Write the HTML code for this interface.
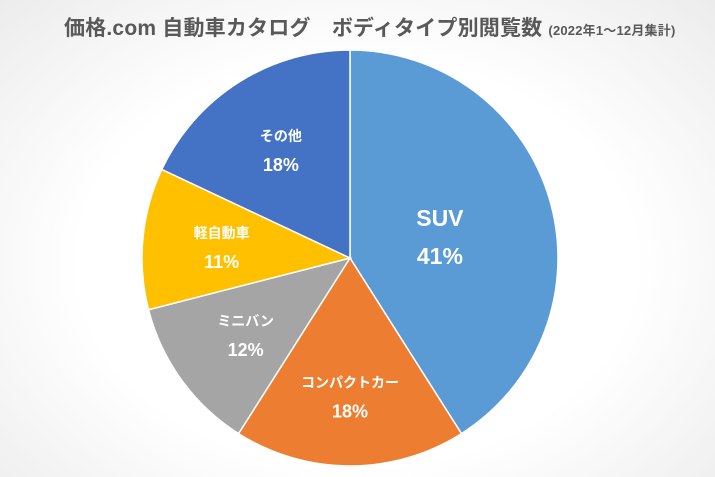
<!DOCTYPE html>
<html><head><meta charset="utf-8"><style>
html,body{margin:0;padding:0}
body{width:715px;height:477px;overflow:hidden;background:radial-gradient(ellipse at 50% 55%,#ffffff 55%,#ececec 100%);font-family:"Liberation Sans","Noto Sans CJK JP",sans-serif}
#title{position:absolute;left:64px;top:12px;font-size:21px;font-weight:bold;color:#595959;white-space:nowrap;letter-spacing:0.2px}
#title small{font-size:13px;font-weight:bold}
svg{position:absolute;left:0;top:0}
</style></head><body>
<div id="title">価格.com 自動車カタログ　ボディタイプ別閲覧数 <small>(2022年1～12月集計)</small></div>
<svg id="chart" width="715" height="477"></svg>
<script>
const categories=["SUV","コンパクトカー","ミニバン","軽自動車","その他"];
const values=[41,18,12,11,18];
const colors=["#5B9BD5","#ED7D31","#A5A5A5","#FFC000","#4472C4"];
const cx=350,cy=258,r=208;
const svg=document.getElementById('chart');
const NS="http://www.w3.org/2000/svg";
const total=values.reduce((a,b)=>a+b,0);
let a0=-Math.PI/2;
values.forEach((v,i)=>{
  const a1=a0+v/total*2*Math.PI;
  const p=document.createElementNS(NS,'path');
  const x0=cx+r*Math.cos(a0),y0=cy+r*Math.sin(a0),x1=cx+r*Math.cos(a1),y1=cy+r*Math.sin(a1);
  p.setAttribute('d',`M${cx},${cy}L${x0},${y0}A${r},${r} 0 ${a1-a0>Math.PI?1:0} 1 ${x1},${y1}Z`);
  p.setAttribute('fill',colors[i]);
  p.setAttribute('stroke','#fff');
  p.setAttribute('stroke-width','1.5');
  
  
  svg.appendChild(p);
  const am=(a0+a1)/2;
  const lr=i===0?r*0.45:(i===1?r*0.66:r*0.62);
  const lx=cx+lr*Math.cos(am),ly=cy+lr*Math.sin(am);
  const big=i===0;
  const t1=document.createElementNS(NS,'text');
  t1.setAttribute('x',lx);t1.setAttribute('y',ly-(big?6:8));
  t1.setAttribute('text-anchor','middle');
  t1.setAttribute('fill','#fff');t1.setAttribute('font-weight','bold');
  t1.setAttribute('font-size',big?'23':'14');
  t1.textContent=categories[i];
  
  
  svg.appendChild(t1);
  const t2=document.createElementNS(NS,'text');
  t2.setAttribute('x',lx);t2.setAttribute('y',ly+(big?32:22));
  t2.setAttribute('text-anchor','middle');
  t2.setAttribute('fill','#fff');t2.setAttribute('font-weight','bold');
  t2.setAttribute('font-size',big?'23':'18');
  t2.textContent=v+'%';
  
  
  svg.appendChild(t2);
  a0=a1;
});
</script>
</body></html>
